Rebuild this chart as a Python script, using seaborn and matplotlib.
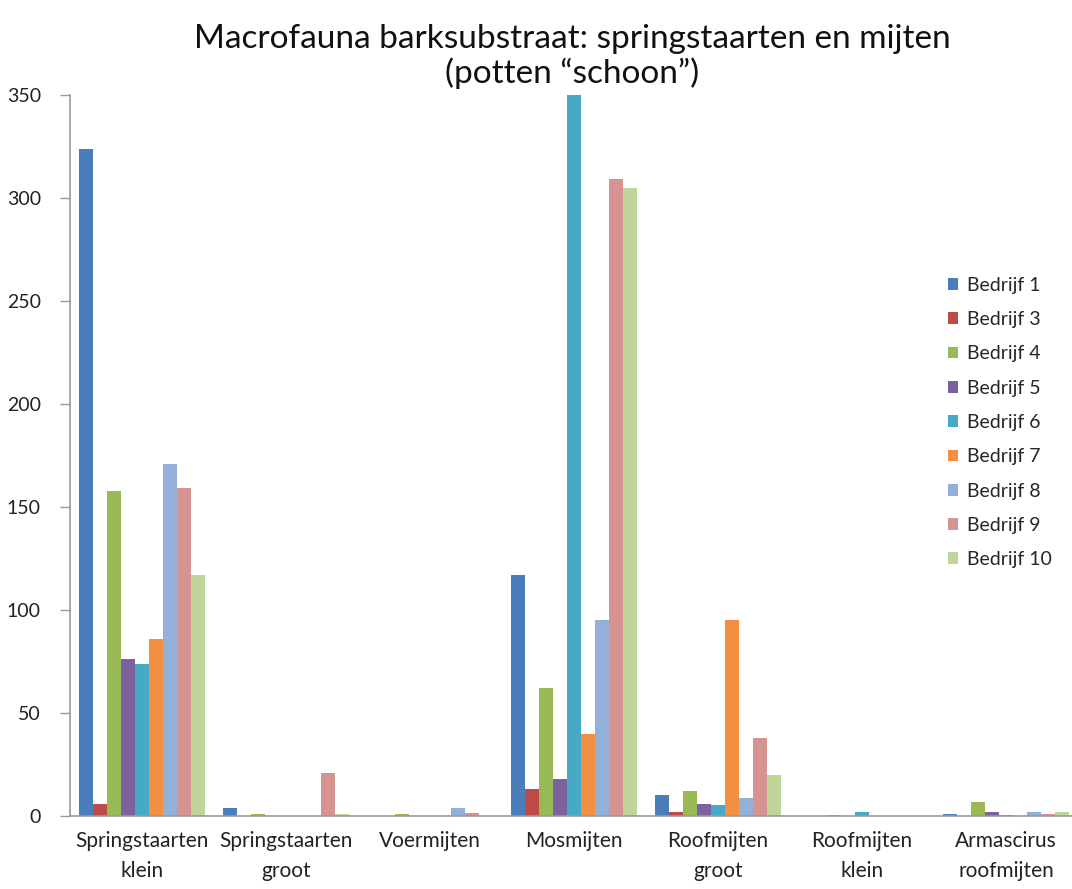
import numpy as np
import pandas as pd
import matplotlib.pyplot as plt
import seaborn as sns

# categories and series
categories = ["Springstaarten\nklein", "Springstaarten\ngroot", "Voermijten", "Mosmijten",
              "Roofmijten\ngroot", "Roofmijten\nklein", "Armascirus\nroofmijten"]
series = ["Bedrijf 1", "Bedrijf 3", "Bedrijf 4", "Bedrijf 5", "Bedrijf 6",
          "Bedrijf 7", "Bedrijf 8", "Bedrijf 9", "Bedrijf 10"]

bedrijf_1 = [324, 4, 0, 117, 10, 0, 1]
bedrijf_3 = [6, 0, 0, 13, 2, 0, 0]
bedrijf_4 = [158, 1, 1, 62, 12, 0.5, 7]
bedrijf_5 = [76, 0, 0, 18, 6, 0, 2]
bedrijf_6 = [74, 0, 0, 350, 5.5, 2, 0.5]
bedrijf_7 = [86, 0, 0, 40, 95, 0, 0]
bedrijf_8 = [171, 0, 4, 95, 8.5, 0, 2]
bedrijf_9 = [159, 21, 1.5, 309, 38, 0, 1]
bedrijf_10 = [117, 1, 0, 305, 20, 0, 2]

colors = ["#4A7EBB", "#BE4B48", "#98B954", "#7D60A0", "#46AAC5",
          "#F28F43", "#93B1D8", "#D79391", "#BFD59A"]

values = [bedrijf_1, bedrijf_3, bedrijf_4, bedrijf_5, bedrijf_6,
          bedrijf_7, bedrijf_8, bedrijf_9, bedrijf_10]
rows = []
for name, vals in zip(series, values):
    for cat, v in zip(categories, vals):
        rows.append({"Categorie": cat, "Bedrijf": name, "Aantal": v})
df = pd.DataFrame(rows)

sns.set_style("white")
plt.rcParams['font.family'] = ['Lato', 'DejaVu Sans']

fig = plt.figure(figsize=(10.72, 8.89), dpi=100)
ax = fig.add_axes([70 / 1072, 1 - 816 / 889, 1008 / 1072, (816 - 95) / 889])

sns.barplot(data=df, x="Categorie", y="Aantal", hue="Bedrijf", order=categories,
            hue_order=series, palette=colors, width=0.87, saturation=1,
            linewidth=0, ax=ax)

ax.set_ylim(0, 350)
ax.set_xlim(-0.5, len(categories) - 0.5)
ax.set_yticks(np.arange(0, 351, 50))
ax.set_xlabel("")
ax.set_ylabel("")

# Excel style: tick marks between categories
ax.set_xticks(np.arange(-0.5, len(categories), 1), minor=True)
ax.tick_params(axis="x", which="major", length=0, labelsize=15, pad=11, colors="#222222")
ax.tick_params(axis="x", which="minor", length=6, width=1, color="#9a9a9a", direction="out")
ax.tick_params(axis="y", length=7, width=1, color="#9a9a9a", direction="out",
               labelsize=14, pad=14, left=True, labelcolor="#222222")
for lab in ax.get_xticklabels():
    lab.set_linespacing(1.6)

for s in ["top", "right"]:
    ax.spines[s].set_visible(False)
for s in ["left", "bottom"]:
    ax.spines[s].set_color("#9a9a9a")
    ax.spines[s].set_linewidth(1.2)

ax.legend(loc="upper left", bbox_to_anchor=(940 / 1072, 1 - 269 / 889),
          bbox_transform=fig.transFigure, frameon=False, fontsize=14,
          handlelength=0.55, handleheight=0.55, handletextpad=0.45, labelspacing=0.89,
          borderaxespad=0)

fig.text(0.534, 1 - 39 / 889, "Macrofauna barksubstraat: springstaarten en mijten",
         ha="center", va="center", fontsize=24, color="#111111")
fig.text(0.534, 1 - 73 / 889, "(potten \u201cschoon\u201d)",
         ha="center", va="center", fontsize=24, color="#111111")

fig.savefig("out.png", dpi=100)
